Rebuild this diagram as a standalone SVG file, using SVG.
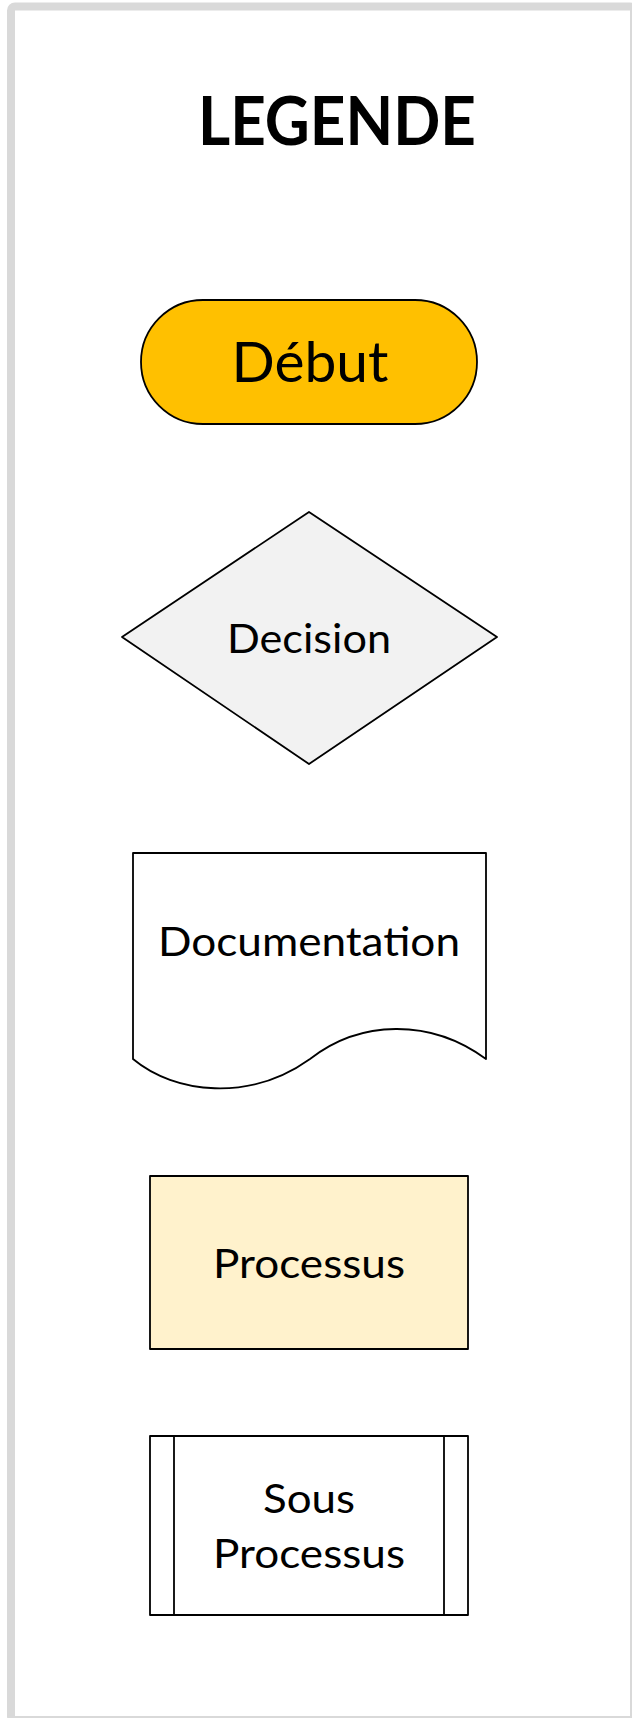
<svg xmlns="http://www.w3.org/2000/svg" width="632" height="1718" viewBox="0 0 632 1718">
<style>
.shape{stroke:#000;stroke-width:1.8;stroke-linejoin:round}
.lbl{font-family:Lato,"Open Sans","Liberation Sans",sans-serif;font-size:41px;fill:#000;text-anchor:middle}
.title{font-family:Lato,"Open Sans","Liberation Sans",sans-serif;font-size:67px;font-weight:bold;fill:#000;text-anchor:middle}
</style>
<rect x="0" y="0" width="632" height="1718" fill="#FFFFFF"/>
<rect id="frame" x="11" y="6.5" width="623" height="1713.5" rx="4" fill="#FFFFFF" stroke="#D9D9D9" stroke-width="8"/>
<g id="title">
<text class="title" x="337" y="145" textLength="278" lengthAdjust="spacingAndGlyphs">LEGENDE</text>
</g>
<g id="debut">
<rect class="shape" x="141" y="300" width="336" height="124" rx="62" fill="#FFC000"/>
<text class="lbl" x="310" y="382" style="font-size:56px" textLength="157" lengthAdjust="spacingAndGlyphs">Début</text>
</g>
<g id="decision">
<polygon class="shape" points="309,512 497,637 309,764 122,637" fill="#F2F2F2"/>
<text class="lbl" x="309" y="653" textLength="164" lengthAdjust="spacingAndGlyphs">Decision</text>
</g>
<g id="documentation">
<path class="shape" d="M133,1059 V853 H486 V1059 C430,1018 360,1020 310,1059 C250,1102 175,1094 133,1059 Z" fill="#FFFFFF"/>
<text class="lbl" x="309" y="956" textLength="302" lengthAdjust="spacingAndGlyphs">Documentation</text>
</g>
<g id="processus">
<rect class="shape" x="150" y="1176" width="318" height="173" fill="#FFF2CC"/>
<text class="lbl" x="309" y="1278" textLength="192" lengthAdjust="spacingAndGlyphs">Processus</text>
</g>
<g id="sous-processus">
<rect class="shape" x="150" y="1436" width="318" height="179" fill="#FFFFFF"/>
<line class="shape" x1="174" y1="1436" x2="174" y2="1615"/>
<line class="shape" x1="444" y1="1436" x2="444" y2="1615"/>
<text class="lbl" x="309" y="1513" textLength="92" lengthAdjust="spacingAndGlyphs">Sous</text>
<text class="lbl" x="309" y="1568" textLength="192" lengthAdjust="spacingAndGlyphs">Processus</text>
</g>
<g id="connectors"/>
</svg>
